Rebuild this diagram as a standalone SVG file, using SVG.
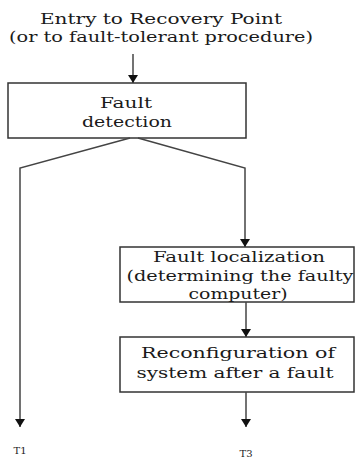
<svg xmlns="http://www.w3.org/2000/svg" width="356" height="459" viewBox="0 0 356 459">
<defs>
<style>
.box{fill:#fff;stroke:#333;stroke-width:1.5}
.t{font-family:"DejaVu Serif","Liberation Serif",serif;font-size:15px;fill:#1a1a1a;text-anchor:middle}
.s{font-family:"DejaVu Serif","Liberation Serif",serif;font-size:10px;fill:#1a1a1a;text-anchor:middle}
.c{fill:none;stroke:#444;stroke-width:1.5}
</style>
<marker id="ah" viewBox="0 0 8 10" refX="8" refY="5" markerWidth="8" markerHeight="10" markerUnits="userSpaceOnUse" orient="auto">
<path d="M0,0 L8,5 L0,10 z" fill="#111"/>
</marker>
</defs>
<rect width="356" height="459" fill="#fff"/>
<g id="entry">
<text class="t" x="161" y="24" textLength="242" lengthAdjust="spacingAndGlyphs">Entry to Recovery Point</text>
<text class="t" x="161" y="42" textLength="304" lengthAdjust="spacingAndGlyphs">(or to fault-tolerant procedure)</text>
</g>
<g id="detection">
<rect class="box" x="8" y="83" width="238" height="55"/>
<text class="t" x="126" y="108" textLength="52" lengthAdjust="spacingAndGlyphs">Fault</text>
<text class="t" x="127" y="127" textLength="90" lengthAdjust="spacingAndGlyphs">detection</text>
</g>
<g id="localization">
<rect class="box" x="120" y="247" width="234" height="55"/>
<text class="t" x="239" y="262" textLength="172" lengthAdjust="spacingAndGlyphs">Fault localization</text>
<text class="t" x="240" y="281" textLength="227" lengthAdjust="spacingAndGlyphs">(determining the faulty</text>
<text class="t" x="238" y="299" textLength="99" lengthAdjust="spacingAndGlyphs">computer)</text>
</g>
<g id="reconfiguration">
<rect class="box" x="120" y="337" width="234" height="55"/>
<text class="t" x="238" y="358" textLength="194" lengthAdjust="spacingAndGlyphs">Reconfiguration of</text>
<text class="t" x="235" y="378" textLength="197" lengthAdjust="spacingAndGlyphs">system after a fault</text>
</g>
<g id="t1"><text class="s" x="20" y="454">T1</text></g>
<g id="t3"><text class="s" x="246" y="457">T3</text></g>
<g id="connectors">
<path class="c" d="M133,54 V83" marker-end="url(#ah)"/>
<path class="c" d="M130,138 L20,168 V427" marker-end="url(#ah)"/>
<path class="c" d="M138,138 L245,168 V247" marker-end="url(#ah)"/>
<path class="c" d="M246,302 V337" marker-end="url(#ah)"/>
<path class="c" d="M246,392 V427" marker-end="url(#ah)"/>
</g>
</svg>
